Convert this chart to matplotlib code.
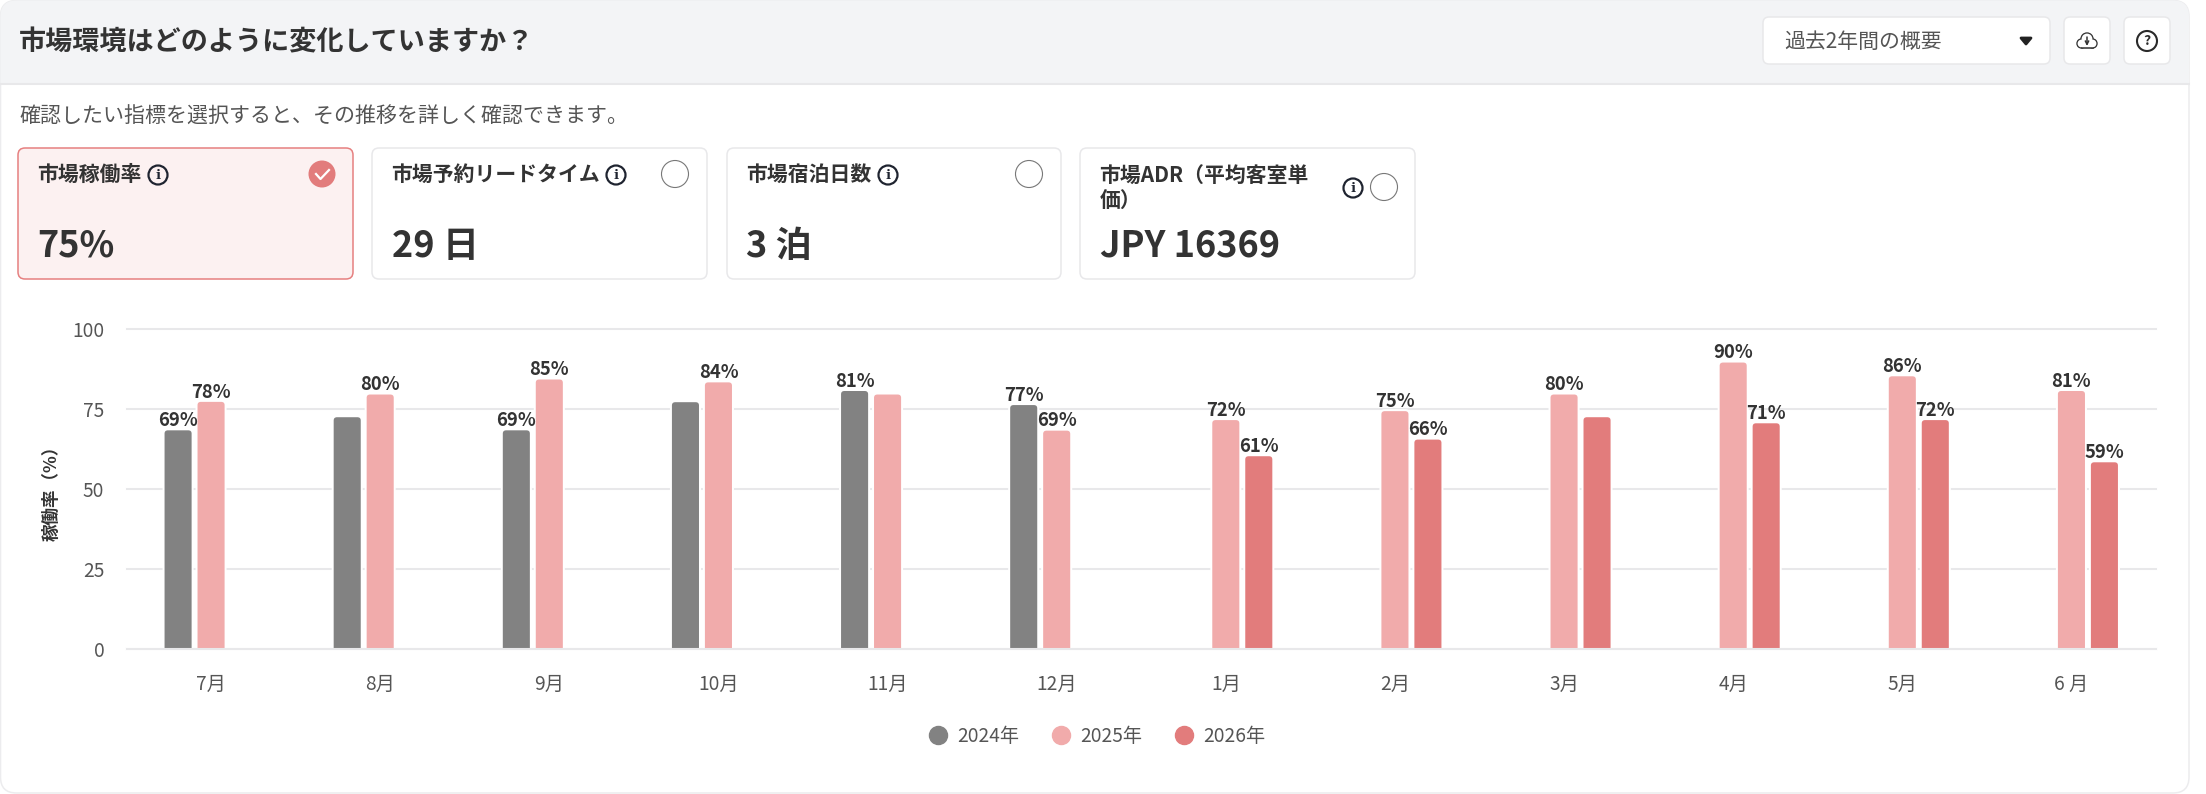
import matplotlib
matplotlib.use("Agg")
import matplotlib.pyplot as plt
from matplotlib.patches import FancyBboxPatch, Circle, Rectangle, Polygon, PathPatch
from matplotlib.path import Path
from matplotlib.lines import Line2D

plt.rcParams['font.family'] = ['Noto Sans CJK JP', 'DejaVu Sans']

W, H = 2206, 794

# --- data ---
months = ["7月", "8月", "9月", "10月", "11月", "12月", "1月", "2月", "3月", "4月", "5月", "6 月"]
yticks = [0, 25, 50, 75, 100]
# bar heights, None = no bar
v2024 = [68.4, 72.5, 68.4, 77.2, 80.7, 76.3, None, None, None, None, None, None]
v2025 = [77.3, 79.6, 84.3, 83.4, 79.6, 68.3, 71.6, 74.4, 79.6, 89.6, 85.3, 80.7]
v2026 = [None, None, None, None, None, None, 60.3, 65.5, 72.5, 70.6, 71.6, 58.4]
# printed labels, some bars have none
l2024 = ["69%", None, "69%", None, "81%", "77%", None, None, None, None, None, None]
l2025 = ["78%", "80%", "85%", "84%", None, "69%", "72%", "75%", "80%", "90%", "86%", "81%"]
l2026 = [None, None, None, None, None, None, "61%", "66%", None, "71%", "72%", "59%"]
series_names = ["2024年", "2025年", "2026年"]
card_titles = ["市場稼働率", "市場予約リードタイム", "市場宿泊日数", "市場ADR（平均客室単\n価）"]
card_values = ["75%", "29 日", "3 泊", "JPY 16369"]

GRAY, PINK, RED = "#828282", "#f1abab", "#e27c7c"
DARK, MID, LINE = "#333333", "#555555", "#e8e8ea"

fig = plt.figure(figsize=(W / 100, H / 100), dpi=100, facecolor="white")

# --- page chrome, in pixel coords ---
ui = fig.add_axes([0, 0, 1, 1])
ui.set_xlim(0, W)
ui.set_ylim(H, 0)
ui.axis("off")


def box(x0, y0, x1, y1, r=8, fc="white", ec=LINE, lw=1.1, z=2):
    p = FancyBboxPatch((x0 + r, y0 + r), x1 - x0 - 2 * r, y1 - y0 - 2 * r,
                       boxstyle=f"round,pad={r},rounding_size={r}",
                       fc=fc, ec=ec, lw=lw, zorder=z)
    ui.add_patch(p)
    return p


def info_icon(x, y):
    ui.add_patch(Circle((x, y), 9.5, fc="none", ec="#1f2430", lw=1.6, zorder=4))
    ui.text(x, y + 0.5, "i", family="DejaVu Serif", weight="bold", fontsize=9.5,
            color="#1f2430", ha="center", va="center", zorder=4)


outer = box(0.5, 0.5, 2189, H - 1, r=16, fc="white", ec="#ececee", z=1)
head = Rectangle((0, 0), 2189, 84, fc="#f3f4f6", ec="none", zorder=1.5)
ui.add_patch(head)
head.set_clip_path(outer)
ui.plot([0, 2189], [84, 84], color=LINE, lw=1.5, zorder=1.6)

ui.text(19, 42.5, "市場環境はどのように変化していますか？", fontsize=19.5, weight="bold",
        color=DARK, va="center")
ui.text(19, 116.5, "確認したい指標を選択すると、その推移を詳しく確認できます。", fontsize=15.1,
        color=MID, va="center")

# top right controls
box(1763, 17, 2050, 64, r=6)
ui.text(1784, 41.5, "過去2年間の概要", fontsize=15, color=MID, va="center")
ui.add_patch(Polygon([[2021, 38], [2031, 38], [2026, 44]], fc="#222222", ec="#222222",
                     lw=2, joinstyle="round", zorder=4))
box(2064, 17, 2110, 64, r=6)
box(2124, 17, 2170, 64, r=6)
ui.add_patch(Circle((2147, 41), 10, fc="none", ec="#2a2a2a", lw=1.5, zorder=4))
ui.text(2147, 41, "?", fontsize=10, weight="bold", color="#2a2a2a", ha="center", va="center", zorder=4)
# cloud download icon
cloud = [(2081.5, 43.5, 4.5), (2092.5, 43.5, 4.5), (2087, 39, 6)]
for cx, cy, r in cloud:
    ui.add_patch(Circle((cx, cy), r, fc="#333333", ec="#333333", lw=1, zorder=4))
for cx, cy, r in cloud:
    ui.add_patch(Circle((cx, cy), r - 0.6, fc="white", ec="none", zorder=4.2))
ui.add_patch(Rectangle((2081.5, 41), 11, 7, fc="white", ec="none", zorder=4.3))
ui.plot([2081.5, 2092.5], [48.2, 48.2], color="#333333", lw=1.1, zorder=4.6)
ui.annotate("", xy=(2087, 46), xytext=(2087, 37), zorder=5,
            arrowprops=dict(arrowstyle="->", color="#333333", lw=1.1, mutation_scale=6,
                            shrinkA=0, shrinkB=0))

# metric cards
card_x = [(18, 353), (372, 707), (727, 1061), (1080, 1415)]
for i, ((x0, x1), t, v) in enumerate(zip(card_x, card_titles, card_values)):
    sel = i == 0
    box(x0, 148, x1, 279, r=7, fc="#fcf1f1" if sel else "white", ec="#e68080" if sel else LINE)
    ui.text(x0 + 19.5, 174.5 if i < 3 else 189, t, fontsize=15, weight="bold", color=DARK,
            va="center", linespacing=1.2, zorder=4)
    ui.text(x0 + 19.5, 246, v, fontsize=26, weight="bold", color=DARK, va="center", zorder=4)

info_icon(158, 175)
info_icon(616, 175)
info_icon(888, 175)
info_icon(1353, 188)
ui.add_patch(Circle((322, 174), 13.5, fc="#e27c7c", ec="none", zorder=4))
ui.plot([316, 320.5, 329], [174, 179, 170], color="white", lw=1.6, zorder=5)
for cx, cy in [(675, 174), (1029, 174), (1384, 187)]:
    ui.add_patch(Circle((cx, cy), 13.5, fc="white", ec="#777777", lw=0.8, zorder=4))

# --- chart ---
ax_l, ax_r, ax_t, ax_b = 126.5, 2156, 329.3, 649
ax = fig.add_axes([ax_l / W, 1 - ax_b / H, (ax_r - ax_l) / W, (ax_b - ax_t) / H])
ax.patch.set_alpha(0)
ax.set_xlim(-0.5, 11.5)
ax.set_ylim(0, 100)
for s in ax.spines.values():
    s.set_visible(False)
ax.set_axisbelow(True)
ax.grid(axis="y", color=LINE, lw=1.5)
ax.tick_params(length=0)
ax.set_yticks(yticks)
for g in ax.get_ygridlines():
    g.set_clip_on(False)
ax.set_xticks(range(len(months)), months)
ax.tick_params(axis="y", labelsize=13.8, labelcolor=MID, pad=16)
ax.tick_params(axis="x", labelsize=13.8, labelcolor=MID, pad=18)
ax.set_ylabel("稼働率（%）", fontsize=12.6, weight="bold", color=DARK, labelpad=8)
ax.axhline(0, color=LINE, lw=1.5, zorder=4, clip_on=False)

BAR_W = 0.16
STEP = 0.195


def round_bars(bars, color):
    # rounded top corners, matplotlib bars are square
    rx, ry = 0.02, 1.0
    for b in bars:
        x0, x1, h = b.get_x(), b.get_x() + b.get_width(), b.get_height()
        b.set_visible(False)
        verts = [(x0, 0), (x0, h - ry), (x0, h), (x0 + rx, h), (x1 - rx, h), (x1, h), (x1, h - ry), (x1, 0), (x0, 0)]
        codes = [Path.MOVETO, Path.LINETO, Path.CURVE3, Path.CURVE3, Path.LINETO, Path.CURVE3, Path.CURVE3, Path.LINETO, Path.CLOSEPOLY]
        # white halo breaks the grid lines next to the bar
        ax.add_patch(PathPatch(Path(verts, codes), fc="white", ec="white", lw=2.9, zorder=2.9))
        ax.add_patch(PathPatch(Path(verts, codes), fc=color, ec="none", zorder=3))


for vals, labels, off, col in [(v2024, l2024, -STEP, GRAY), (v2025, l2025, 0, PINK), (v2026, l2026, STEP, RED)]:
    xs = [i + off for i, v in enumerate(vals) if v is not None]
    hs = [v for v in vals if v is not None]
    round_bars(ax.bar(xs, hs, width=BAR_W, color=col), col)
    for i, (v, lab) in enumerate(zip(vals, labels)):
        if lab is not None:
            ax.annotate(lab, (i + off, v), xytext=(0, 3), textcoords="offset points", ha="center",
                        va="baseline", fontsize=13.3, weight="bold", color=DARK, zorder=5)

handles = [Line2D([], [], ls="", marker="o", ms=13, mfc=c, mec=c) for c in (GRAY, PINK, RED)]
fig.legend(handles, series_names, loc="center", bbox_to_anchor=(1097 / W, 1 - 736 / H), ncol=3,
           frameon=False, fontsize=13.8, labelcolor=MID, handlelength=1, handletextpad=0.5,
           columnspacing=1.7)

fig.savefig("out.png", dpi=100)
